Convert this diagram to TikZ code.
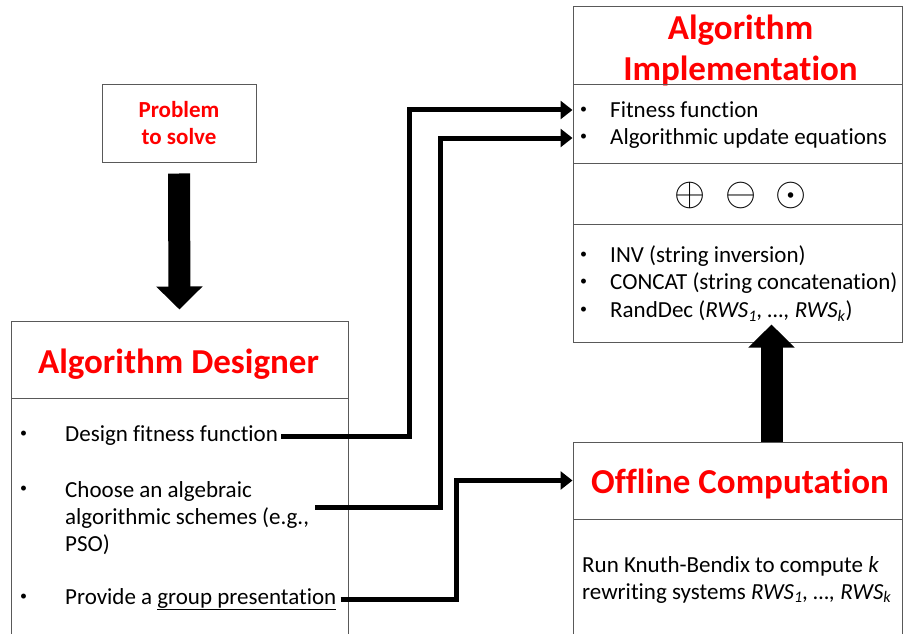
\documentclass[tikz,border=0pt]{standalone}
\usepackage{fix-cm}
\usepackage{fontspec}
\setmainfont{Carlito}[RawFeature={-liga}]
\usetikzlibrary{positioning,arrows.meta}
\definecolor{titlered}{RGB}{255,0,0}
\definecolor{boxgray}{RGB}{89,89,89}
\newcommand{\bul}[1]{\makebox[#1][l]{\raisebox{4pt}{\fontsize{14}{14}\selectfont\textbullet}}}
\tikzset{
  panel/.style={draw=boxgray,line width=1pt,inner sep=0pt},
  ttl/.style={text=titlered,font=\fontsize{35}{41}\selectfont\bfseries,align=center},
  probttl/.style={text=titlered,font=\fontsize{23}{27}\selectfont\bfseries,align=center},
  item/.style={anchor=west,inner sep=0pt,font=\fontsize{23}{27}\selectfont,align=left},
  opsym/.style={font=\fontsize{40}{40}\selectfont},
  conn/.style={line width=5pt,-{Triangle[length=12pt,width=18pt]}},
  bigarrow/.style={line width=22pt,-{Triangle[length=23pt,width=45pt]}}
}
\begin{document}
\begin{tikzpicture}[x=1pt,y=1pt]
    \clip (0,0) rectangle (903,-634);
    % --- problem and designer
    \node[panel,probttl,minimum width=154pt,minimum height=77pt] (prob) at (179,-123.5) {Problem\\to solve};
    \node[panel,minimum width=337pt,minimum height=77pt] (deshead) at (179.5,-359.5) {};
    \node[ttl] (destitle) at (178.5,-364) {Algorithm Designer};
    \node[panel,minimum width=337pt,minimum height=260pt] (desbody) at (179.5,-528) {};
    \node[item] (design) at (20,-436) {\bul{45pt}Design fitness function};
    \node[item] (chooseb) at (20,-491) {\bul{5pt}};
    \node[item] (choose) at (65,-518) {Choose an algebraic\\algorithmic schemes (e.g.,\\PSO)};
    \node[item] (provide) at (20,-599) {\bul{45pt}Provide a \underline{group presentation}};
    % --- implementation
    \node[panel,minimum width=329pt,minimum height=78pt] (implhead) at (737.5,-46) {};
    \node[ttl] (impltitle) at (740.5,-50) {Algorithm\\Implementation};
    \node[panel,minimum width=329pt,minimum height=78pt] (fitlist) at (737.5,-124) {};
    \node[panel,minimum width=329pt,minimum height=61pt] (opsbox) at (737.5,-193.5) {};
    \node[panel,minimum width=329pt,minimum height=118pt] (strlist) at (737.5,-283) {};
    \node[item] (fit) at (580,-110) {\bul{30pt}Fitness function};
    \node[item] (upd) at (580,-138) {\bul{30pt}Algorithmic update equations};
    \node[opsym] (opl) at (690,-195) {$\oplus$};
    \node[opsym] (omi) at (741,-195) {$\ominus$};
    \node[opsym] (odo) at (791,-195) {$\odot$};
    \node[item] (inv) at (580,-256) {\bul{30pt}INV (string inversion)};
    \node[item] (cat) at (580,-283) {\bul{30pt}CONCAT (string concatenation)};
    \node[item] (rnd) at (580,-311) {\bul{30pt}RandDec (\textit{RWS\textsubscript{1}, …, RWS\textsubscript{k}})};
    % --- offline
    \node[panel,minimum width=329pt,minimum height=77pt] (offhead) at (737.5,-480.5) {};
    \node[ttl] (offtitle) at (740,-484) {Offline Computation};
    \node[panel,minimum width=329pt,minimum height=141pt] (offbody) at (737.5,-589.5) {};
    \node[item] (kb) at (582,-579.5) {Run Knuth-Bendix to compute \textit{k}\\rewriting systems \textit{RWS\textsubscript{1}, …, RWS\textsubscript{k}}};
    % --- connectors
    \coordinate (bend1) at (409,0);
    \coordinate (bend2) at (440,0);
    \coordinate (bend3) at (456,0);
    \draw[conn,shorten <=3pt] (design.east) -| (bend1 |- fit.west) -- (offhead.west |- fit.west);
    \draw[conn] ([shift={(6pt,11pt)}]choose.east) -| (bend2 |- upd.west) -- (offhead.west |- upd.west);
    \draw[conn,shorten <=4pt] (provide.east) -| (bend3 |- offhead.west) -- (offhead.west);
    \draw[bigarrow,shorten <=11pt,shorten >=11pt] (prob.south) -- (deshead.north);
    \draw[bigarrow] ([xshift=34pt]offhead.north) -- ([xshift=34pt,yshift=18pt]strlist.south);
\end{tikzpicture}
\end{document}
